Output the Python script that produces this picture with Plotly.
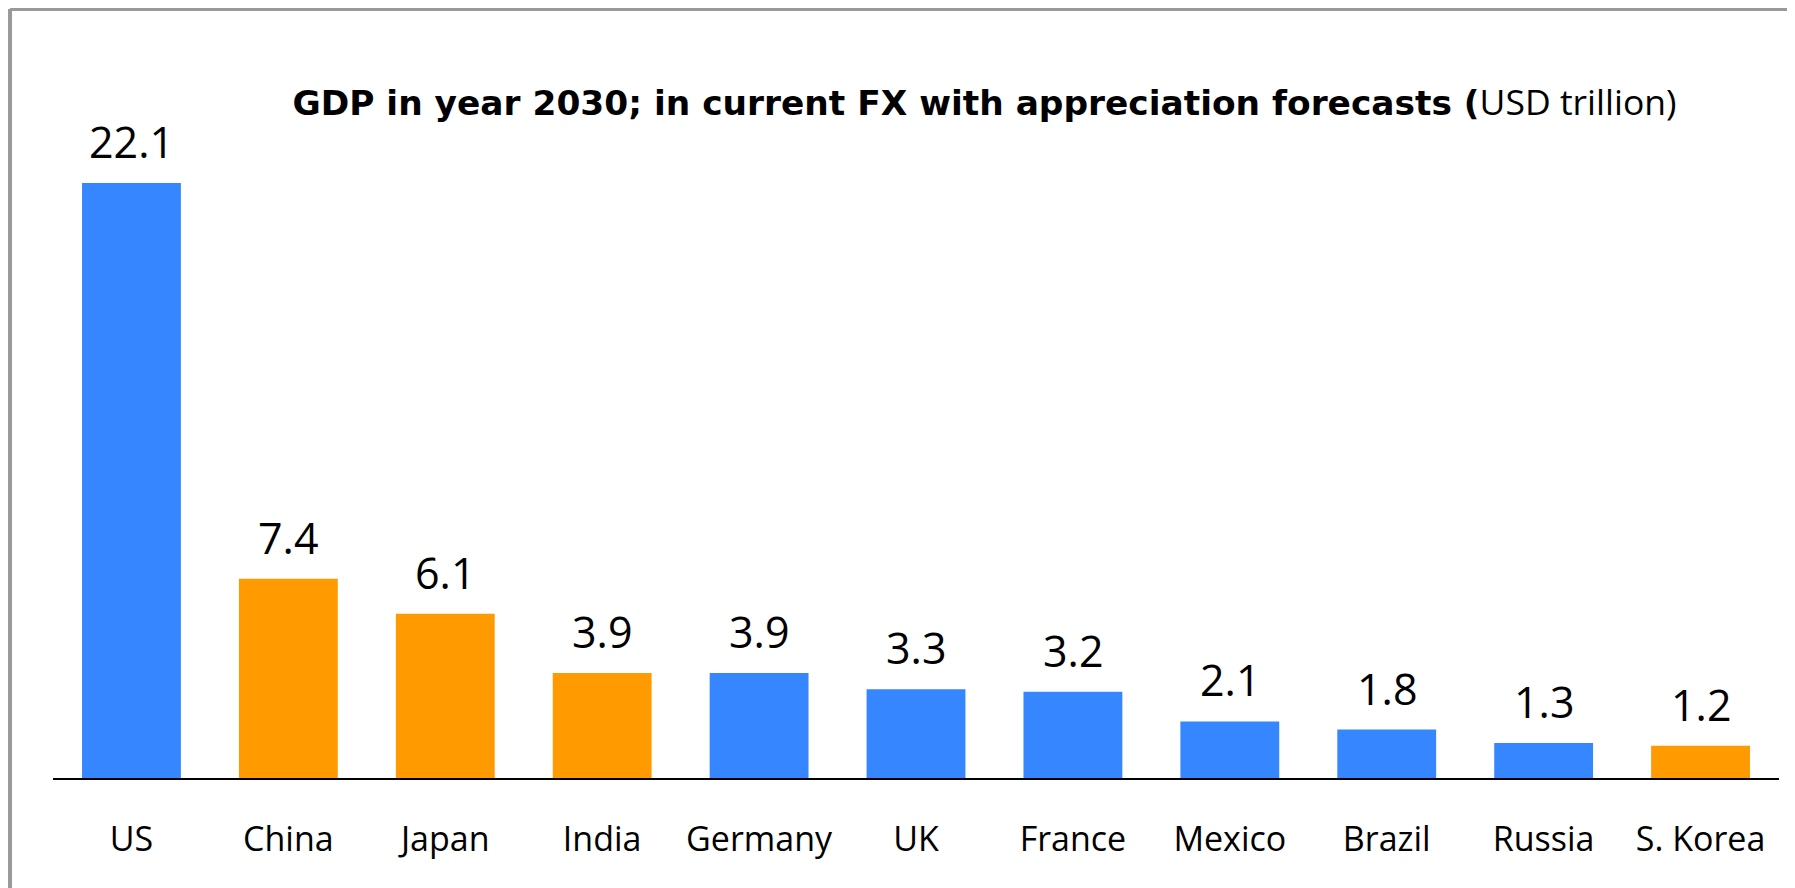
import plotly.graph_objects as go

# GDP in 2030, USD trillion
countries = ["US", "China", "Japan", "India", "Germany", "UK", "France",
             "Mexico", "Brazil", "Russia", "S. Korea"]
gdp_2030 = [22.1, 7.4, 6.1, 3.9, 3.9, 3.3, 3.2, 2.1, 1.8, 1.3, 1.2]
is_asia = [False, True, True, True, False, False, False, False, False, False, True]

BLUE = "#3686ff"
ORANGE = "#ff9a00"
FONT = "Open Sans"

colors = [ORANGE if a else BLUE for a in is_asia]

fig = go.Figure(go.Bar(
    x=countries,
    y=gdp_2030,
    marker=dict(color=colors, line=dict(width=0)),
    hoverinfo="x+y",
))

# value labels sitting above the bars
for c, v in zip(countries, gdp_2030):
    fig.add_annotation(
        x=c, y=v, text=f"{v:.1f}", showarrow=False,
        yanchor="bottom", yshift=10,
        font=dict(family=FONT, size=43, color="black"),
    )

# frame round the chart (grey top/left, faint right)
fig.add_shape(type="line", xref="paper", yref="paper",
              x0=-0.0249, x1=1.02, y0=1.1426, y1=1.1426,
              line=dict(color="#999999", width=4))
fig.add_shape(type="line", xref="paper", yref="paper",
              x0=-0.0249, x1=-0.0249, y0=1.1426, y1=-0.2,
              line=dict(color="#999999", width=4))
fig.add_shape(type="line", xref="paper", yref="paper",
              x0=1.0081, x1=1.0081, y0=1.1426, y1=-0.2,
              line=dict(color="#dddddd", width=1.5))

title_txt = ("<b>GDP in year 2030; in current FX with appreciation forecasts (</b>"
             "<span style='font-family:Open Sans;font-size:35.5px'>USD trillion)</span>")

fig.update_layout(
    width=1795, height=888,
    margin=dict(l=45, r=24, t=97, b=118),
    paper_bgcolor="white", plot_bgcolor="white",
    bargap=0.37,
    showlegend=False,
    title=dict(
        text=title_txt,
        x=0.544, xanchor="center", xref="container",
        y=0.8928, yanchor="middle", yref="container",
        font=dict(family="DejaVu Sans", size=34.4, color="black"),
    ),
    xaxis=dict(
        showline=True, linecolor="black", linewidth=2,
        ticks="", showgrid=False, zeroline=False,
        tickfont=dict(family=FONT, size=34, color="black"),
        ticklabelstandoff=30,
    ),
    yaxis=dict(visible=False, range=[0, 25], showgrid=False, zeroline=False),
)

fig.write_html("out.html")
